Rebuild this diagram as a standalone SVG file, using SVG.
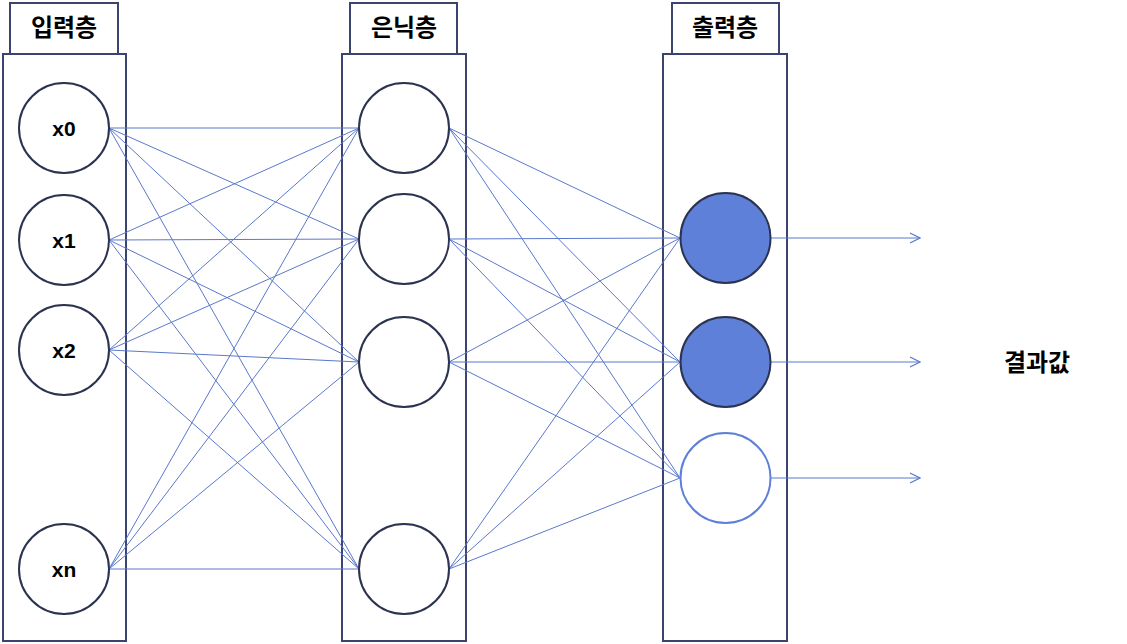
<svg xmlns="http://www.w3.org/2000/svg" width="1127" height="644" viewBox="0 0 1127 644">
<defs>
<style>
.box{fill:#fff;stroke:#3B4470;stroke-width:2}
.nd{fill:#fff;stroke:#2B3350;stroke-width:2}
.on{fill:#5E80D8;stroke:#2B3350;stroke-width:2}
.off{fill:#fff;stroke:#5E80D8;stroke-width:2}
.ttl{font-family:"Noto Sans CJK KR","Noto Sans",sans-serif;font-weight:bold;font-size:24px;fill:#000;text-anchor:middle}
.lbl{font-family:"Liberation Sans",Arial,sans-serif;font-weight:bold;font-size:21px;fill:#000;text-anchor:middle}
.cn line{stroke:#5A78CC;stroke-width:1}
.ar{stroke:#5A78CC;stroke-width:1.2;fill:none}
</style>
<marker id="ah" viewBox="0 0 12 12" refX="11" refY="6" markerWidth="12" markerHeight="12" markerUnits="userSpaceOnUse" orient="auto">
<path d="M1,1 L11,6 L1,11" fill="none" stroke="#5A78CC" stroke-width="1.2"/>
</marker>
</defs>
<rect width="1127" height="644" fill="#fff"/>
<g id="layer-input">
<rect class="box" x="10" y="3" width="108" height="51"/>
<rect class="box" x="3" y="54" width="123" height="587"/>
<text class="ttl" x="64" y="36">입력층</text>
</g>
<g id="layer-hidden">
<rect class="box" x="350" y="3" width="107" height="51"/>
<rect class="box" x="342" y="54" width="124" height="587"/>
<text class="ttl" x="404" y="36">은닉층</text>
</g>
<g id="layer-output">
<rect class="box" x="672" y="3" width="107" height="51"/>
<rect class="box" x="663" y="54" width="124" height="587"/>
<text class="ttl" x="725" y="36">출력층</text>
</g>
<g id="connectors" class="cn">
<line x1="109" y1="128" x2="359" y2="128"/><line x1="109" y1="128" x2="359" y2="239"/><line x1="109" y1="128" x2="359" y2="362"/><line x1="109" y1="128" x2="359" y2="569"/>
<line x1="109" y1="240" x2="359" y2="128"/><line x1="109" y1="240" x2="359" y2="239"/><line x1="109" y1="240" x2="359" y2="362"/><line x1="109" y1="240" x2="359" y2="569"/>
<line x1="109" y1="350" x2="359" y2="128"/><line x1="109" y1="350" x2="359" y2="239"/><line x1="109" y1="350" x2="359" y2="362"/><line x1="109" y1="350" x2="359" y2="569"/>
<line x1="109" y1="569" x2="359" y2="128"/><line x1="109" y1="569" x2="359" y2="239"/><line x1="109" y1="569" x2="359" y2="362"/><line x1="109" y1="569" x2="359" y2="569"/>
<line x1="449" y1="128" x2="680" y2="238"/><line x1="449" y1="128" x2="680" y2="362"/><line x1="449" y1="128" x2="680" y2="478"/>
<line x1="449" y1="239" x2="680" y2="238"/><line x1="449" y1="239" x2="680" y2="362"/><line x1="449" y1="239" x2="680" y2="478"/>
<line x1="449" y1="362" x2="680" y2="238"/><line x1="449" y1="362" x2="680" y2="362"/><line x1="449" y1="362" x2="680" y2="478"/>
<line x1="449" y1="569" x2="680" y2="238"/><line x1="449" y1="569" x2="680" y2="362"/><line x1="449" y1="569" x2="680" y2="478"/>
<line class="ar" x1="771" y1="238" x2="920" y2="238" marker-end="url(#ah)"/>
<line class="ar" x1="771" y1="362" x2="920" y2="362" marker-end="url(#ah)"/>
<line class="ar" x1="771" y1="478" x2="920" y2="478" marker-end="url(#ah)"/>
</g>
<g id="node-x0"><circle class="nd" cx="64" cy="128" r="45"/><text class="lbl" x="64" y="135.5">x0</text></g>
<g id="node-x1"><circle class="nd" cx="64" cy="240" r="45"/><text class="lbl" x="64" y="247.5">x1</text></g>
<g id="node-x2"><circle class="nd" cx="64" cy="350" r="45"/><text class="lbl" x="64" y="357.5">x2</text></g>
<g id="node-xn"><circle class="nd" cx="64" cy="569" r="45"/><text class="lbl" x="64" y="576.5">xn</text></g>
<g id="node-h0"><circle class="nd" cx="404" cy="128" r="45"/></g>
<g id="node-h1"><circle class="nd" cx="404" cy="239" r="45"/></g>
<g id="node-h2"><circle class="nd" cx="404" cy="362" r="45"/></g>
<g id="node-h3"><circle class="nd" cx="404" cy="569" r="45"/></g>
<g id="node-o0"><circle class="on" cx="725.5" cy="238" r="45"/></g>
<g id="node-o1"><circle class="on" cx="725.5" cy="362" r="45"/></g>
<g id="node-o2"><circle class="off" cx="725.5" cy="478" r="45"/></g>
<g id="result"><text class="ttl" x="1037" y="371">결과값</text></g>
</svg>
